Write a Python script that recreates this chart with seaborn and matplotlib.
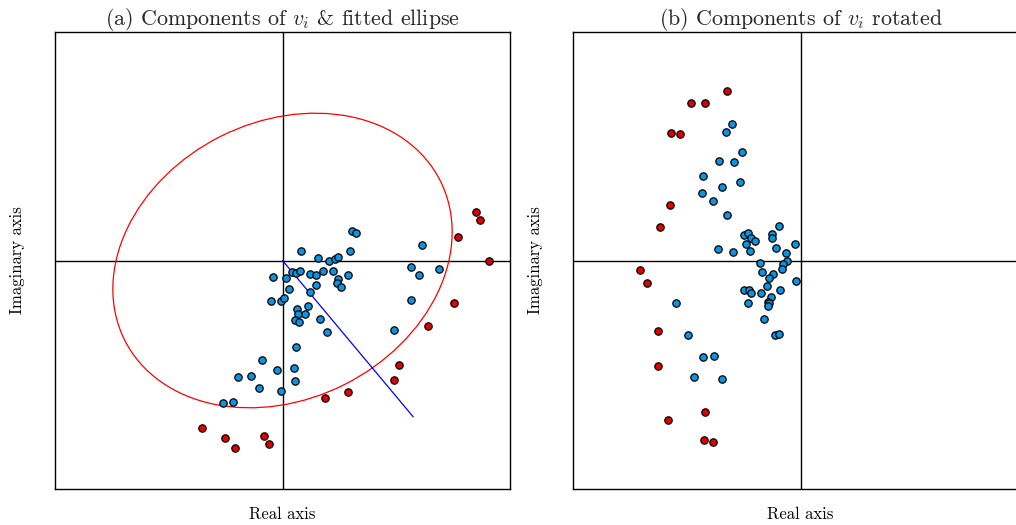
import numpy as np
import pandas as pd
import seaborn as sns
import matplotlib
matplotlib.use("Agg")
import matplotlib.pyplot as plt
from matplotlib.patches import Ellipse

# ---- data (units: 1 = 100 px of the original picture, origin at axes centre) ----
# Panel (a): components of v_i
a_blue_x = [-0.097, -0.12, -0.013, 0.02, -0.207, -0.053, -0.447, -0.32, -0.233, -0.013, -0.593, -0.493,
            0.693, 0.733, 0.187, 0.673, 0.357, 0.463, 0.527, 0.553, 0.04, 0.097, 0.137, 0.18, 0.273,
            0.337, 0.41, 0.503, 0.66, 0.56, 0.55, 0.587, 0.337, 0.063, 0.277, 0.143, 0.157, 0.223,
            0.253, 0.127, 0.17, 0.377, 0.45, 0.133, 0.117, 0.127, 1.403, 1.283, 1.367, 1.573, 1.29, 1.12]
a_blue_y = [-0.163, -0.40, -0.40, -0.373, -0.99, -1.09, -1.163, -1.157, -1.277, -1.303, -1.417, -1.413,
            0.297, 0.273, 0.09, 0.09, 0.02, -0.007, 0.013, 0.037, -0.17, -0.113, -0.127, -0.10, -0.137,
            -0.14, -0.107, -0.103, -0.143, -0.183, -0.22, -0.26, -0.24, -0.28, -0.313, -0.483, -0.53, -0.53,
            -0.457, -0.593, -0.61, -0.58, -0.717, -0.867, -1.07, -1.203, 0.15, -0.06, -0.14, -0.08, -0.393, -0.693]
a_red_x = [-0.81, -0.573, -0.48, -0.183, -0.137, 0.427, 0.66, 1.113, 1.167, 1.457, 1.723, 1.76, 1.937, 1.98, 2.067]
a_red_y = [-1.673, -1.767, -1.867, -1.75, -1.827, -1.37, -1.313, -1.193, -1.043, -0.657, -0.427, 0.233, 0.487, 0.407, -0.003]

# Panel (b): components of v_i rotated
b_blue_x = [-0.683, -0.75, -0.587, -0.813, -0.663, -0.973, -0.61, -0.783, -0.99, -0.88, -0.737, -0.22,
            -0.567, -0.53, -0.493, -0.453, -0.29, -0.29, -0.057, -0.543, -0.247, -0.827, -0.677, -0.503,
            -0.15, -0.41, -0.14, -0.177, -0.39, -0.273, -0.183, -0.317, -0.05,
            -0.34, -0.57, -0.517, -0.493, -0.397, -0.207, -0.293, -0.33, -0.32, -0.323, -0.53, -1.243,
            -0.363, -0.26, -0.217, -1.127, -0.98, -0.867, -1.07, -0.787]
b_blue_y = [1.363, 1.283, 1.087, 0.997, 0.987, 0.843, 0.787, 0.737, 0.67, 0.593, 0.45, 0.34,
            0.257, 0.277, 0.22, 0.197, 0.26, 0.22, 0.167, 0.163, 0.127, 0.11, 0.08, 0.093,
            0.07, -0.02, -0.007, -0.03, -0.11, -0.13, -0.083, -0.177, -0.20,
            -0.257, -0.29, -0.29, -0.32, -0.327, -0.297, -0.36, -0.41, -0.427, -0.457, -0.42, -0.42,
            -0.587, -0.747, -0.73, -0.743, -0.967, -0.957, -1.163, -1.183]
b_red_x = [-0.74, -1.097, -0.96, -1.293, -1.203, -1.31, -1.413, -1.613, -1.537, -1.43, -1.43, -0.953, -1.33, -0.967, -0.877]
b_red_y = [1.693, 1.567, 1.573, 1.277, 1.26, 0.55, 0.337, -0.09, -0.227, -0.703, -1.053, -1.51, -1.59, -1.793, -1.81]

# fitted ellipse and direction line of panel (a)
ell_semi_major = 1.77
ell_semi_minor = 1.385
ell_angle_deg = 26.5
line_end = (1.31, -1.56)

LIM = 2.28
BLUE = "#0a95e4"
RED = "#e00000"

sns.set_theme(style="white")
plt.rcParams["font.family"] = ["serif"]
plt.rcParams["font.serif"] = ["cmr10", "DejaVu Serif"]
plt.rcParams["mathtext.fontset"] = "cm"
plt.rcParams["axes.unicode_minus"] = False

W, H = 1016, 525
fig = plt.figure(figsize=(W / 100, H / 100), dpi=100)
axw, axh = 455 / W, 457 / H
bottom = (H - 489) / H
ax1 = fig.add_axes([55 / W, bottom, axw, axh])
ax2 = fig.add_axes([573 / W, bottom, axw, axh])


def frame(ax, title):
    ax.set_xlim(-LIM, LIM)
    ax.set_ylim(-LIM, LIM)
    ax.axhline(0, color="black", lw=1.0, zorder=1)
    ax.axvline(0, color="black", lw=1.0, zorder=1)
    ax.set_xticks([])
    ax.set_yticks([])
    for s in ax.spines.values():
        s.set_color("black")
        s.set_linewidth(1.0)
        s.set_visible(True)
    ax.set_title(title, fontsize=15.8, pad=5)


def labels(ax):
    ax.set_xlabel("Real axis", fontsize=12, labelpad=12.5, visible=True, color="black")
    ax.set_ylabel("Imaginary axis", fontsize=12, labelpad=21.5, visible=True, color="black")


def dots(ax, xs, ys, color):
    df = pd.DataFrame({"x": xs, "y": ys})
    sns.scatterplot(data=df, x="x", y="y", ax=ax, color=color, s=28,
                    edgecolor="black", linewidth=0.9, zorder=3, legend=False)


frame(ax1, r"(a) Components of $v_i$ & fitted ellipse")
ax1.add_patch(Ellipse((0, 0), 2 * ell_semi_major, 2 * ell_semi_minor, angle=ell_angle_deg,
                      fill=False, edgecolor="red", lw=0.9, zorder=2))
ax1.plot([0, line_end[0]], [0, line_end[1]], color="blue", lw=0.9, zorder=2)
dots(ax1, a_blue_x, a_blue_y, BLUE)
dots(ax1, a_red_x, a_red_y, RED)
labels(ax1)

frame(ax2, r"(b) Components of $v_i$ rotated")
dots(ax2, b_blue_x, b_blue_y, BLUE)
dots(ax2, b_red_x, b_red_y, RED)
labels(ax2)

fig.savefig("out.png", dpi=100)
